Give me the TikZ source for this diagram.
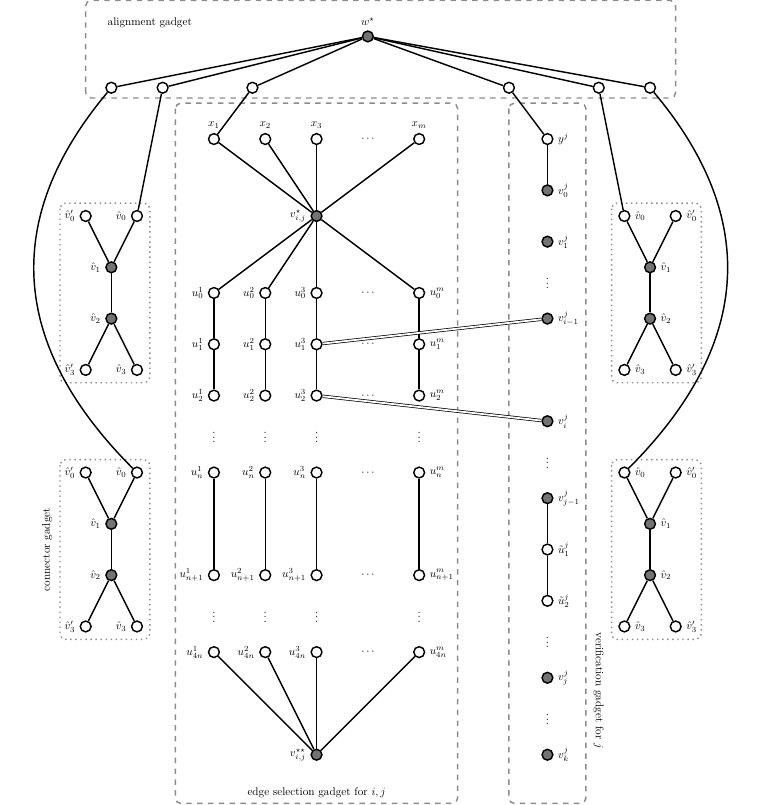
\documentclass[tikz,border=0pt]{standalone}

\begin{document}
\begin{tikzpicture}[
    vertex/.style={circle, draw=black, thick, fill=white,
        minimum size=6pt, inner sep=0pt},
    hub/.style={vertex, fill=black!55},
    txt/.style={scale=0.62},
    every label/.style={scale=0.62},
    label distance=0.5pt,
    edge/.style={thick, -},
    link/.style={double, thin, double distance=1pt},
    gadget/.style={draw=black!45, dashed, thick, rounded corners=3pt},
    connbox/.style={draw=black!45, dotted, thick, rounded corners=3pt}
]
    \useasboundingbox (-4.17,-12.98) rectangle (11.05,2.71);

    % gadget boxes
    \draw[gadget] (-2.5,0.8) rectangle (9,2.7);
    \draw[gadget] (-0.75,0.7) rectangle (4.75,-12.95);
    \draw[gadget] (5.75,0.7) rectangle (7.25,-12.95);
    \draw[connbox] (-3,-1.25) rectangle (-1.25,-4.75);
    \draw[connbox] (-3,-6.25) rectangle (-1.25,-9.75);
    \draw[connbox] (7.75,-1.25) rectangle (9.5,-4.75);
    \draw[connbox] (7.75,-6.25) rectangle (9.5,-9.75);
    \node[txt] (tal) at (-1.25,2.26) {alignment gadget};
    \node[txt] (tes) at (2,-12.75) {edge selection gadget for $i,j$};
    \node[txt, rotate=-90] (tver) at (7.5,-10.75) {verification gadget for $j$};
    \node[txt, rotate=90] (tcon) at (-3.25,-8) {connector gadget};

    % alignment gadget
    \node[hub, label=above:$w^\star$] (w) at (3,2) {};
    \node[vertex] (a1) at (-2,1) {};
    \node[vertex] (a2) at (-1,1) {};
    \node[vertex] (a3) at (0.75,1) {};
    \node[vertex] (a4) at (5.75,1) {};
    \node[vertex] (a5) at (7.5,1) {};
    \node[vertex] (a6) at (8.5,1) {};

    % edge selection gadget
    \node[vertex, label=above:$x_1$] (x1) at (0,0) {};
    \node[vertex, label=above:$x_2$] (x2) at (1,0) {};
    \node[vertex, label=above:$x_3$] (x3) at (2,0) {};
    \node[txt] (dx) at (3,0) {$\cdots$};
    \node[vertex, label=above:$x_m$] (xm) at (4,0) {};
    \node[hub, label=left:$v^\star_{i,j}$] (vs) at (2,-1.5) {};

    \node[vertex, label=left:$u^1_0$] (u01) at (0,-3) {};
    \node[vertex, label=left:$u^2_0$] (u02) at (1,-3) {};
    \node[vertex, label=left:$u^3_0$] (u03) at (2,-3) {};
    \node[txt] (d0) at (3,-3) {$\cdots$};
    \node[vertex, label=right:$u^m_0$] (u0m) at (4,-3) {};

    \node[vertex, label=left:$u^1_1$] (u11) at (0,-4) {};
    \node[vertex, label=left:$u^2_1$] (u12) at (1,-4) {};
    \node[vertex, label=left:$u^3_1$] (u13) at (2,-4) {};
    \node[txt] (d1) at (3,-4) {$\cdots$};
    \node[vertex, label=right:$u^m_1$] (u1m) at (4,-4) {};

    \node[vertex, label=left:$u^1_2$] (u21) at (0,-5) {};
    \node[vertex, label=left:$u^2_2$] (u22) at (1,-5) {};
    \node[vertex, label=left:$u^3_2$] (u23) at (2,-5) {};
    \node[txt] (d2) at (3,-5) {$\cdots$};
    \node[vertex, label=right:$u^m_2$] (u2m) at (4,-5) {};

    \node[txt] (e1) at (0,-5.75) {$\vdots$};
    \node[txt] (e2) at (1,-5.75) {$\vdots$};
    \node[txt] (e3) at (2,-5.75) {$\vdots$};
    \node[txt] (e4) at (4,-5.75) {$\vdots$};

    \node[vertex, label=left:$u^1_n$] (un1) at (0,-6.5) {};
    \node[vertex, label=left:$u^2_n$] (un2) at (1,-6.5) {};
    \node[vertex, label=left:$u^3_n$] (un3) at (2,-6.5) {};
    \node[txt] (dn) at (3,-6.5) {$\cdots$};
    \node[vertex, label=right:$u^m_n$] (unm) at (4,-6.5) {};

    \node[vertex, label=left:$u^1_{n+1}$] (uo1) at (0,-8.5) {};
    \node[vertex, label=left:$u^2_{n+1}$] (uo2) at (1,-8.5) {};
    \node[vertex, label=left:$u^3_{n+1}$] (uo3) at (2,-8.5) {};
    \node[txt] (do) at (3,-8.5) {$\cdots$};
    \node[vertex, label=right:$u^m_{n+1}$] (uom) at (4,-8.5) {};

    \node[txt] (f1) at (0,-9.25) {$\vdots$};
    \node[txt] (f2) at (1,-9.25) {$\vdots$};
    \node[txt] (f3) at (2,-9.25) {$\vdots$};
    \node[txt] (f4) at (4,-9.25) {$\vdots$};

    \node[vertex, label=left:$u^1_{4n}$] (uf1) at (0,-10) {};
    \node[vertex, label=left:$u^2_{4n}$] (uf2) at (1,-10) {};
    \node[vertex, label=left:$u^3_{4n}$] (uf3) at (2,-10) {};
    \node[txt] (df) at (3,-10) {$\cdots$};
    \node[vertex, label=right:$u^m_{4n}$] (ufm) at (4,-10) {};
    \node[hub, label=left:$v^{\star\star}_{i,j}$] (vss) at (2,-12) {};

    % verification gadget
    \node[vertex, label=right:$y^j$] (yj) at (6.5,0) {};
    \node[hub, label=right:$v^j_0$] (vj0) at (6.5,-1) {};
    \node[hub, label=right:$v^j_1$] (vj1) at (6.5,-2) {};
    \node[txt] (g1) at (6.5,-2.75) {$\vdots$};
    \node[hub, label=right:$v^j_{i-1}$] (vjh) at (6.5,-3.5) {};
    \node[hub, label=right:$v^j_i$] (vji) at (6.5,-5.5) {};
    \node[txt] (g2) at (6.5,-6.25) {$\vdots$};
    \node[hub, label=right:$v^j_{j-1}$] (vjg) at (6.5,-7) {};
    \node[vertex, label=right:$\tilde u^j_1$] (t1) at (6.5,-8) {};
    \node[vertex, label=right:$\tilde u^j_2$] (t2) at (6.5,-9) {};
    \node[txt] (g3) at (6.5,-9.75) {$\vdots$};
    \node[hub, label=right:$v^j_j$] (vjj) at (6.5,-10.5) {};
    \node[txt] (g4) at (6.5,-11.25) {$\vdots$};
    \node[hub, label=right:$v^j_k$] (vjk) at (6.5,-12) {};

    % connector gadgets
    \node[vertex, label=left:$\hat v'_0$] (ltq0) at (-2.5,-1.5) {};
    \node[vertex, label=left:$\hat v_0$] (lt0) at (-1.5,-1.5) {};
    \node[hub, label=left:$\hat v_1$] (lt1) at (-2,-2.5) {};
    \node[hub, label=left:$\hat v_2$] (lt2) at (-2,-3.5) {};
    \node[vertex, label=left:$\hat v'_3$] (ltq3) at (-2.5,-4.5) {};
    \node[vertex, label=left:$\hat v_3$] (lt3) at (-1.5,-4.5) {};

    \node[vertex, label=left:$\hat v'_0$] (lbq0) at (-2.5,-6.5) {};
    \node[vertex, label=left:$\hat v_0$] (lb0) at (-1.5,-6.5) {};
    \node[hub, label=left:$\hat v_1$] (lb1) at (-2,-7.5) {};
    \node[hub, label=left:$\hat v_2$] (lb2) at (-2,-8.5) {};
    \node[vertex, label=left:$\hat v'_3$] (lbq3) at (-2.5,-9.5) {};
    \node[vertex, label=left:$\hat v_3$] (lb3) at (-1.5,-9.5) {};

    \node[vertex, label=right:$\hat v_0$] (rt0) at (8,-1.5) {};
    \node[vertex, label=right:$\hat v'_0$] (rtq0) at (9,-1.5) {};
    \node[hub, label=right:$\hat v_1$] (rt1) at (8.5,-2.5) {};
    \node[hub, label=right:$\hat v_2$] (rt2) at (8.5,-3.5) {};
    \node[vertex, label=right:$\hat v_3$] (rt3) at (8,-4.5) {};
    \node[vertex, label=right:$\hat v'_3$] (rtq3) at (9,-4.5) {};

    \node[vertex, label=right:$\hat v_0$] (rb0) at (8,-6.5) {};
    \node[vertex, label=right:$\hat v'_0$] (rbq0) at (9,-6.5) {};
    \node[hub, label=right:$\hat v_1$] (rb1) at (8.5,-7.5) {};
    \node[hub, label=right:$\hat v_2$] (rb2) at (8.5,-8.5) {};
    \node[vertex, label=right:$\hat v_3$] (rb3) at (8,-9.5) {};
    \node[vertex, label=right:$\hat v'_3$] (rbq3) at (9,-9.5) {};

    % edges
    \draw[edge] (w) -- (a1);
    \draw[edge] (w) -- (a2);
    \draw[edge] (w) -- (a3);
    \draw[edge] (w) -- (a4);
    \draw[edge] (w) -- (a5);
    \draw[edge] (w) -- (a6);
    \draw[edge] (a3) -- (x1);
    \draw[edge] (a4) -- (yj);
    \draw[edge] (a2) -- (lt0);
    \draw[edge] (a5) -- (rt0);
    \draw[edge] (a1) to[out=230, in=135, looseness=1.15] (lb0);
    \draw[edge] (a6) to[out=310, in=45, looseness=1.15] (rb0);

    \draw[edge] (x1) -- (vs);
    \draw[edge] (x2) -- (vs);
    \draw[edge] (x3) -- (vs);
    \draw[edge] (xm) -- (vs);
    \draw[edge] (vs) -- (u01);
    \draw[edge] (vs) -- (u02);
    \draw[edge] (vs) -- (u03);
    \draw[edge] (vs) -- (u0m);
    \draw[edge] (u01) -- (u11) -- (u21);
    \draw[edge] (u02) -- (u12) -- (u22);
    \draw[edge] (u03) -- (u13) -- (u23);
    \draw[edge] (u0m) -- (u1m) -- (u2m);
    \draw[edge] (un1) -- (uo1);
    \draw[edge] (un2) -- (uo2);
    \draw[edge] (un3) -- (uo3);
    \draw[edge] (unm) -- (uom);
    \draw[edge] (uf1) -- (vss);
    \draw[edge] (uf2) -- (vss);
    \draw[edge] (uf3) -- (vss);
    \draw[edge] (ufm) -- (vss);

    \draw[edge] (yj) -- (vj0);
    \draw[edge] (vjg) -- (t1) -- (t2);
    \draw[link] (u13) -- (vjh);
    \draw[link] (u23) -- (vji);

    \draw[edge] (ltq0) -- (lt1);
    \draw[edge] (lt0) -- (lt1);
    \draw[edge] (lt1) -- (lt2);
    \draw[edge] (lt2) -- (ltq3);
    \draw[edge] (lt2) -- (lt3);
    \draw[edge] (lbq0) -- (lb1);
    \draw[edge] (lb0) -- (lb1);
    \draw[edge] (lb1) -- (lb2);
    \draw[edge] (lb2) -- (lbq3);
    \draw[edge] (lb2) -- (lb3);
    \draw[edge] (rt0) -- (rt1);
    \draw[edge] (rtq0) -- (rt1);
    \draw[edge] (rt1) -- (rt2);
    \draw[edge] (rt2) -- (rt3);
    \draw[edge] (rt2) -- (rtq3);
    \draw[edge] (rb0) -- (rb1);
    \draw[edge] (rbq0) -- (rb1);
    \draw[edge] (rb1) -- (rb2);
    \draw[edge] (rb2) -- (rb3);
    \draw[edge] (rb2) -- (rbq3);
\end{tikzpicture}
\end{document}
